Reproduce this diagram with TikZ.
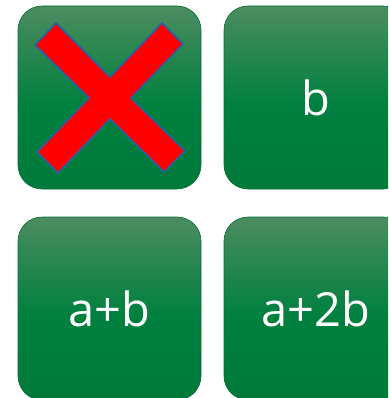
\documentclass[tikz,border=0pt]{standalone}
\usepackage{fontspec}
\newfontfamily\boxfont{Open Sans}
\definecolor{gtop}{RGB}{76,140,96}
\definecolor{gmid}{RGB}{0,128,62}
\definecolor{gbot}{RGB}{0,122,58}
\definecolor{gedge}{RGB}{0,112,52}
\definecolor{xblue}{RGB}{30,100,170}
\pgfdeclareverticalshading{boxshade}{100bp}{color(0bp)=(gbot); color(25bp)=(gbot); color(48bp)=(gmid); color(75bp)=(gtop); color(100bp)=(gtop)}
\tikzset{
  tile/.style={shading=boxshade, draw=gedge, line width=0.6pt, rounded corners=24pt,
    minimum width=183pt, minimum height=183pt, inner sep=0pt, outer sep=0pt,
    text=white, font=\boxfont\fontsize{47}{56}\selectfont},
  cross/.style={fill=red, draw=xblue, line width=1.6pt, line join=miter}
}
\begin{document}
\begin{tikzpicture}[x=1pt,y=-1pt]
\useasboundingbox (0,0) rectangle (388,398);
\clip (0,0) rectangle (388,398);
\node[tile] (tl) at (109.5,97.5) {};
\node[tile] (tr) at (315.5,97.5) {b};
\node[tile] (bl) at (109.5,308.5) {a+b};
\node[tile] (br) at (315.5,308.5) {a+2b};
\draw[cross] (56,23) -- (110,77) -- (162,23) -- (183,44) -- (131,98) -- (185,151) -- (164,172) -- (110,119) -- (58,173) -- (37,152) -- (89,98) -- (35,45) -- cycle;
\end{tikzpicture}
\end{document}
